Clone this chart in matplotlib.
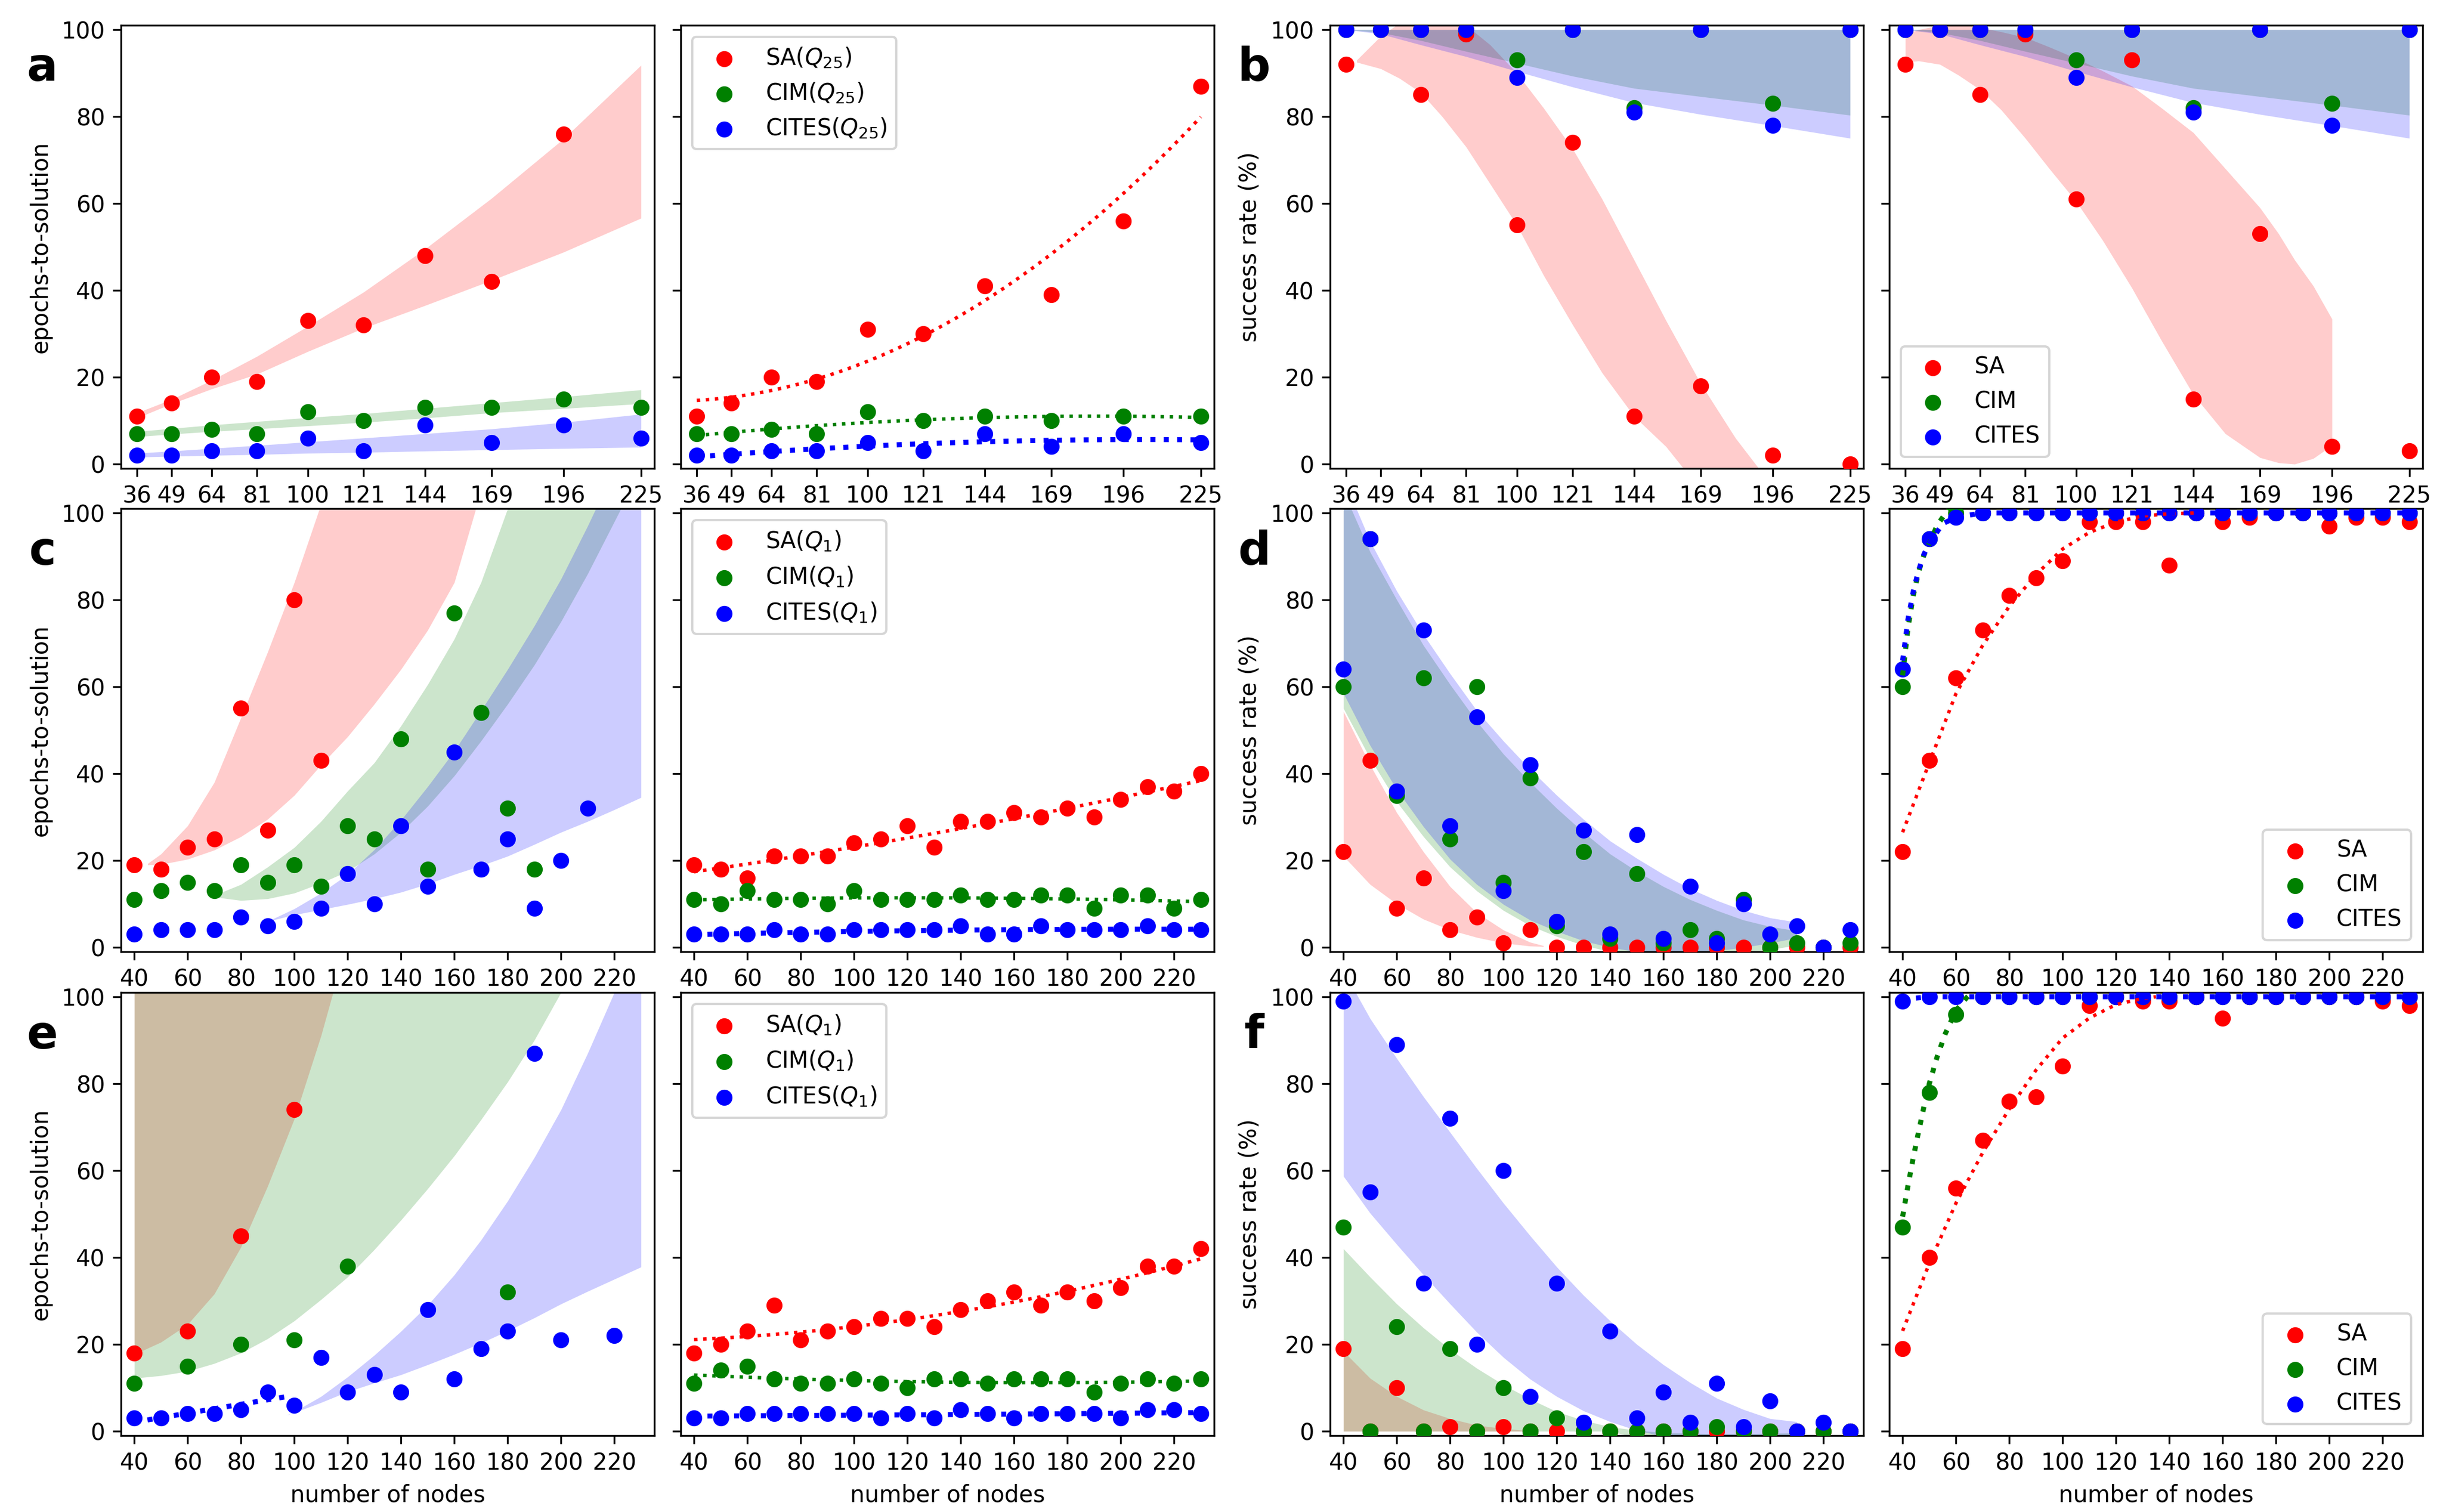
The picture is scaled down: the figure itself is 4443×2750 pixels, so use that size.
import numpy as np
import matplotlib.pyplot as plt

plt.rcParams['font.size'] = 10

# ---------------- x values ----------------
nodes_sq = [36, 49, 64, 81, 100, 121, 144, 169, 196, 225]
nodes = [40, 50, 60, 70, 80, 90, 100, 110, 120, 130, 140, 150, 160, 170, 180, 190, 200, 210, 220, 230]

# ---------------- panel a ----------------
a_sa = [11, 14, 20, 19, 33, 32, 48, 42, 76]
a_cim = [7, 7, 8, 7, 12, 10, 13, 13, 15, 13]
a_cites = [2, 2, 3, 3, 6, 3, 9, 5, 9, 6]
a_sa_lo = [10.6, 13.9, 17.3, 20.7, 25.9, 31.3, 36.5, 42.3, 48.8, 56.6]
a_sa_hi = [11.8, 14.9, 19.3, 24.8, 31.7, 39.6, 49.5, 61.2, 74.9, 91.8]
a_cim_lo = [6.3, 6.9, 7.5, 8.1, 8.8, 9.6, 10.6, 11.8, 12.8, 13.9]
a_cim_hi = [7.5, 8.2, 9.0, 9.8, 10.7, 11.6, 12.8, 14.1, 15.5, 17.1]
a_cites_lo = [1.6, 1.8, 2.0, 2.2, 2.5, 2.7, 3.0, 3.3, 3.6, 3.9]
a_cites_hi = [2.5, 3.0, 3.6, 4.3, 5.1, 6.0, 7.0, 8.1, 9.6, 11.5]

ar_sa = [11, 14, 20, 19, 31, 30, 41, 39, 56, 87]
ar_cim = [7, 7, 8, 7, 12, 10, 11, 10, 11, 11]
ar_cites = [2, 2, 3, 3, 5, 3, 7, 4, 7, 5]

# ---------------- panel b ----------------
b_sa = [92, 100, 85, 99, 55, 74, 11, 18, 2, 0]
br_sa = [92, 100, 85, 99, 61, 93, 15, 53, 4, 3]
b_cim = [100, 100, 100, 100, 93, 100, 82, 100, 83, 100]
b_cites = [100, 100, 100, 100, 89, 100, 81, 100, 78, 100]
b_cim_lo = [100, 99.3, 97.5, 95.0, 92.3, 89.3, 86.5, 84.6, 82.6, 80.3]
b_cites_lo = [100, 99.0, 96.5, 93.8, 90.4, 86.8, 83.2, 80.5, 77.9, 75.0]
b_top = [100, 100, 100, 100, 100, 100, 100, 100, 100, 100]
b_sa_band_x = [40, 49, 56, 64, 72, 81, 90, 100, 110, 121, 132, 144, 156, 169, 182, 192]
b_sa_lo = [92.5, 91, 88.8, 85.5, 80, 73, 64.5, 55, 43.5, 32, 21, 11, 4, -6, -12, -16]
b_sa_hi = [93, 98.5, 101.5, 103, 103, 101, 96.5, 90, 82, 72.5, 61, 47, 33, 18.5, 6, -2]
br_sa_band_x = [36, 41, 49, 56, 64, 72, 81, 90, 100, 110, 121, 132, 144, 156, 169, 176, 182, 189, 196]
br_sa_lo = [92.5, 92.8, 92, 89.5, 86.2, 81.5, 75, 68, 60.5, 51.5, 40.5, 28.5, 16, 7, 1.5, 0.3, 0, 1.3, 4.3]
br_sa_hi = [99, 100, 101, 101.5, 100.5, 99.5, 98.2, 96, 93.4, 90.5, 87, 82, 76.3, 68, 59, 53, 47, 41, 33.4]

# ---------------- panel c ----------------
c_sa = [19, 18, 23, 25, 55, 27, 80, 43]
c_cim = [11, 13, 15, 13, 19, 15, 19, 14, 28, 25, 48, 18, 77, 54, 32, 18]
c_cites = [3, 4, 4, 4, 7, 5, 6, 9, 17, 10, 28, 14, 45, 18, 25, 9, 20, 32]
c_sa_band_x = [45, 50, 60, 70, 80, 90, 100, 110, 120, 130, 140, 150, 160, 170]
c_sa_lo = [19, 19.1, 20.3, 22.4, 25.5, 29.5, 35, 42, 48.5, 56, 64, 73, 84, 105]
c_sa_hi = [19.3, 21.5, 28, 38, 52.9, 68, 84, 102, 122, 145, 170, 195, 220, 250]
c_cim_band_x = [70, 80, 90, 100, 110, 120, 130, 140, 150, 160, 170, 180, 190, 200, 210, 220, 230]
c_cim_lo = [11.6, 10.8, 11.2, 12.5, 14.8, 17.5, 21.5, 26.5, 32.5, 39.5, 47.5, 56, 65, 75, 86, 98, 110]
c_cim_hi = [12, 14.5, 18.5, 23, 29, 36, 42.5, 51, 60.5, 71, 84, 101, 117, 135, 155, 175, 195]
c_cites_band_x = [90, 100, 110, 120, 130, 140, 150, 160, 170, 180, 190, 200, 210, 220, 230]
c_cites_lo = [6, 7.5, 8.7, 9.9, 11.2, 12.7, 14.6, 16.8, 18.8, 21, 23.7, 26.5, 29, 31.7, 34.5]
c_cites_hi = [6, 8.9, 12.5, 16.8, 22.5, 29.3, 37, 45.2, 54.5, 64, 74, 84.8, 97, 110, 125]

cr_sa = [19, 18, 16, 21, 21, 21, 24, 25, 28, 23, 29, 29, 31, 30, 32, 30, 34, 37, 36, 40]
cr_cim = [11, 10, 13, 11, 11, 10, 13, 11, 11, 11, 12, 11, 11, 12, 12, 9, 12, 12, 9, 11]
cr_cites = [3, 3, 3, 4, 3, 3, 4, 4, 4, 4, 5, 3, 3, 5, 4, 4, 4, 5, 4, 4]

# ---------------- panel d ----------------
d_sa = [22, 43, 9, 16, 4, 7, 1, 4, 0, 0, 0, 0, 0, 0, 0, 0, 0, 0, 0, 0]
d_cim = [60, 94, 35, 62, 25, 60, 15, 39, 5, 22, 2, 17, 1, 4, 2, 11, 0, 1, 0, 1]
d_cites = [64, 94, 36, 73, 28, 53, 13, 42, 6, 27, 3, 26, 2, 14, 1, 10, 3, 5, 0, 4]
d_sa_band_x = [40, 50, 60, 70, 80, 90, 100, 110, 115]
d_sa_lo = [21, 14.5, 10, 6.5, 4, 2.3, 1, 0.3, 0.2]
d_sa_hi = [54.3, 42, 31, 22, 14, 8, 4, 1.2, 0.4]
d_band_x = [40, 50, 60, 70, 80, 90, 100, 110, 120, 130, 140, 150, 160, 170, 180, 190, 200, 210]
d_cim_lo = [55, 43.5, 33.5, 25.5, 18.5, 13, 8.5, 5, 2.5, 0.5, -1, -2, -2.3, -2.3, -2, -1.3, -0.5, 0.5]
d_cim_hi = [105, 91, 80, 69.5, 60.5, 52, 44.5, 38, 32, 26.5, 21.5, 17.5, 14, 11, 8.5, 6.3, 4.8, 3.8]
d_cites_lo = [58.5, 46.5, 36.3, 27.8, 20.3, 14.5, 9.9, 6.3, 3.7, 1.5, 0, -1, -1.3, -1.2, -0.8, 0, 1, 2.2]
d_cites_hi = [108, 93.5, 82, 72, 63, 54.5, 47.5, 41, 35, 29.5, 24.5, 20.5, 16.8, 13.5, 10.8, 8.5, 6.8, 5.8]

dr_sa = [22, 43, 62, 73, 81, 85, 89, 98, 98, 98, 88, 100, 98, 99, 100, 100, 97, 99, 99, 98]
dr_cim = [60, 94, 100, 100, 100, 100, 100, 100, 100, 100, 100, 100, 100, 100, 100, 100, 100, 100, 100, 100]
dr_cites = [64, 94, 99, 100, 100, 100, 100, 100, 100, 100, 100, 100, 100, 100, 100, 100, 100, 100, 100, 100]
dr_sa_fit_x = [40, 50, 60, 70, 80, 90, 100, 110, 120, 130, 140, 150]
dr_sa_fit = [26.5, 42.5, 58.4, 69.5, 78.5, 85.8, 91.7, 95.5, 97.9, 99.3, 99.8, 100]
dr_cim_fit_x = [40, 42, 44, 46, 48, 50, 53, 57, 60]
dr_cim_fit = [62.6, 73.5, 81, 86.5, 90.3, 93, 97.2, 100.7, 103]
dr_cites_fit_x = [40, 42, 44, 46, 48, 50, 55, 60, 70, 230]
dr_cites_fit = [66, 75.5, 82, 86.8, 90.5, 93, 97.5, 99, 100, 100]

# ---------------- panel e ----------------
e_sa_x = [40, 60, 80, 100]
e_sa = [18, 23, 45, 74]
e_cim_x = [40, 60, 80, 100, 120, 180]
e_cim = [11, 15, 20, 21, 38, 32]
e_cites_x = [40, 50, 60, 70, 80, 90, 100, 110, 120, 130, 140, 150, 160, 170, 180, 190, 200, 220]
e_cites = [3, 3, 4, 4, 5, 9, 6, 17, 9, 13, 9, 28, 12, 19, 23, 87, 21, 22]
e_sa_band_x = [40, 50, 60, 70, 80, 90, 100, 110, 120]
e_sa_lo = [17.7, 20.5, 24.6, 31.6, 42.4, 56.4, 71.9, 91, 113]
e_sa_hi = [130, 130, 130, 130, 130, 130, 130, 130, 130]
e_cim_band_x = [40, 50, 60, 70, 80, 90, 100, 110, 120, 130, 140, 150, 160, 170, 180, 190, 200]
e_cim_lo = [12.2, 12.8, 13.8, 15.6, 18, 21.3, 25.4, 30.3, 35.5, 41.8, 48.6, 55.8, 63.4, 71.7, 80.4, 90, 101]
e_cim_hi = [130, 130, 130, 130, 130, 130, 130, 130, 130, 130, 130, 130, 130, 130, 130, 130, 130]
e_cites_band_x = [97, 100, 110, 120, 130, 140, 150, 160, 170, 180, 190, 200, 210, 220, 230]
e_cites_lo = [3.7, 4.3, 6.6, 9.1, 11.1, 13, 15.3, 17.7, 20.3, 23.1, 26.1, 29.3, 32.2, 35, 37.8]
e_cites_hi = [3.7, 4.5, 8, 12.5, 17.5, 23, 29, 36, 44, 53, 63, 74, 87, 101, 117]

er_sa = [18, 20, 23, 29, 21, 23, 24, 26, 26, 24, 28, 30, 32, 29, 32, 30, 33, 38, 38, 42]
er_cim = [11, 14, 15, 12, 11, 11, 12, 11, 10, 12, 12, 11, 12, 12, 12, 9, 11, 12, 11, 12]
er_cites = [3, 3, 4, 4, 4, 4, 4, 3, 4, 3, 5, 4, 3, 4, 4, 4, 3, 5, 5, 4]

# ---------------- panel f ----------------
f_sa = [19, 0, 10, 0, 1, 0, 1, 0, 0, 0, 0, 0, 0, 0, 0, 0, 0, 0, 0, 0]
f_cim = [47, 0, 24, 0, 19, 0, 10, 0, 3, 0, 0, 0, 0, 0, 1, 0, 0, 0, 0, 0]
f_cites = [99, 55, 89, 34, 72, 20, 60, 8, 34, 2, 23, 3, 9, 2, 11, 1, 7, 0, 2, 0]
f_sa_band_x = [40, 50, 60, 70, 80, 90, 100, 110]
f_sa_lo = [0, 0, 0, 0, 0, 0, 0, 0]
f_sa_hi = [18.4, 12.2, 8, 4.9, 2.9, 1.4, 0.6, 0.1]
f_band_x = [40, 50, 60, 70, 80, 90, 100, 110, 120, 130, 140, 150, 160, 170, 180, 190, 200, 210]
f_cim_lo = [0, 0, 0, 0, 0, 0, 0, 0, 0, 0, 0, -1.5, -1.5, -1.5, -1.5, -1.5, -1.5, -1.5]
f_cim_hi = [42, 35.5, 29.3, 23.8, 18.8, 14.5, 10.7, 7.4, 4.5, 2.5, 1, 0.2, -0.3, -0.5, -0.6, -0.6, -0.5, -0.4]
f_cites_lo = [58.7, 50.2, 43, 36, 29.3, 22.8, 17, 12, 8, 4.7, 2.2, 0.2, -1.2, -2, -2.5, -2.5, -2, -1.2]
f_cites_hi = [106, 95, 85.8, 77, 68.8, 60.5, 52.5, 45, 37.8, 31.3, 25.4, 20, 15.3, 11.2, 7.6, 5, 2.9, 2.2]

fr_sa = [19, 40, 56, 67, 76, 77, 84, 98, 100, 99, 99, 100, 95, 100, 100, 100, 100, 100, 99, 98]
fr_cim = [47, 78, 96, 100, 100, 100, 100, 100, 100, 100, 100, 100, 100, 100, 100, 100, 100, 100, 100, 100]
fr_cites = [99, 100, 100, 100, 100, 100, 100, 100, 100, 100, 100, 100, 100, 100, 100, 100, 100, 100, 100, 100]
fr_sa_fit_x = [40, 50, 60, 70, 80, 90, 100, 110, 120, 130, 135]
fr_sa_fit = [23.1, 38.6, 52.5, 64.1, 74.2, 83.1, 90.5, 95.1, 98.2, 99.6, 100]
fr_cim_fit_x = [40, 42, 44, 46, 48, 50, 53, 56, 60, 64, 68]
fr_cim_fit = [49.4, 56.5, 63, 69, 74.7, 80, 86.3, 91.5, 96.8, 99.8, 102]
fr_cites_fit_x = [40, 50, 230]
fr_cites_fit = [99.4, 100, 100]

# ---------------- layout ----------------
W, H = 4443, 2750
fig = plt.figure(figsize=(W / 300, H / 300), dpi=300)
col_px = [220, 1238, 2419, 3436]
row_px = [46, 925, 1805]
aw, ah = 970, 806


def make_ax(r, c):
    return fig.add_axes([col_px[c] / W, 1 - (row_px[r] + ah) / H, aw / W, ah / H])


def setup(ax, xticks, xlim, ylabel=None, xlabel=False, ylabels=True):
    ax.set_xlim(*xlim)
    ax.set_ylim(-1, 101)
    ax.set_xticks(xticks)
    ax.set_yticks([0, 20, 40, 60, 80, 100])
    if not ylabels:
        ax.set_yticklabels([])
    if ylabel:
        ax.set_ylabel(ylabel)
    if xlabel:
        ax.set_xlabel('number of nodes')


def dots(ax, xs, ys, labels=(None, None, None)):
    for x, y, col, lab in zip(xs, ys, ['red', 'green', 'blue'], labels):
        ax.scatter(x, y, color=col, label=lab, zorder=3)


def band(ax, x, lo, hi, col):
    ax.fill_between(x, lo, hi, color=col, alpha=0.2, linewidth=0)


def polyline(ax, x, y, deg, col, lw=1.5, x0=None, x1=None):
    p = np.polyfit(x, y, deg)
    xx = np.linspace(x0 if x0 is not None else min(x), x1 if x1 is not None else max(x), 200)
    ax.plot(xx, np.polyval(p, xx), ':', color=col, lw=lw, zorder=4)


ticks_sq = nodes_sq
ticks_lin = [40, 60, 80, 100, 120, 140, 160, 180, 200, 220]
lab25 = ('SA($Q_{25}$)', 'CIM($Q_{25}$)', 'CITES($Q_{25}$)')
lab1 = ('SA($Q_1$)', 'CIM($Q_1$)', 'CITES($Q_1$)')
labs = ('SA', 'CIM', 'CITES')

# a left
ax = make_ax(0, 0)
band(ax, nodes_sq, a_sa_lo, a_sa_hi, 'red')
band(ax, nodes_sq, a_cim_lo, a_cim_hi, 'green')
band(ax, nodes_sq, a_cites_lo, a_cites_hi, 'blue')
dots(ax, [nodes_sq[:len(a_sa)], nodes_sq, nodes_sq], [a_sa, a_cim, a_cites])
setup(ax, ticks_sq, (30, 230), ylabel='epochs-to-solution')

# a right
ax = make_ax(0, 1)
dots(ax, [nodes_sq] * 3, [ar_sa, ar_cim, ar_cites], lab25)
polyline(ax, nodes_sq, ar_sa, 2, 'red')
polyline(ax, nodes_sq, ar_cim, 2, 'green')
polyline(ax, nodes_sq, ar_cites, 2, 'blue', lw=2.2)
setup(ax, ticks_sq, (30, 230), ylabels=False)
ax.legend(loc='upper left')

# b left
ax = make_ax(0, 2)
band(ax, b_sa_band_x, b_sa_lo, b_sa_hi, 'red')
band(ax, nodes_sq, b_cim_lo, b_top, 'green')
band(ax, nodes_sq, b_cites_lo, b_top, 'blue')
dots(ax, [nodes_sq] * 3, [b_sa, b_cim, b_cites])
setup(ax, ticks_sq, (30, 230), ylabel='success rate (%)')

# b right
ax = make_ax(0, 3)
band(ax, br_sa_band_x, br_sa_lo, br_sa_hi, 'red')
band(ax, nodes_sq, b_cim_lo, b_top, 'green')
band(ax, nodes_sq, b_cites_lo, b_top, 'blue')
dots(ax, [nodes_sq] * 3, [br_sa, b_cim, b_cites], labs)
setup(ax, ticks_sq, (30, 230), ylabels=False)
ax.legend(loc='lower left')

# c left
ax = make_ax(1, 0)
band(ax, c_sa_band_x, c_sa_lo, c_sa_hi, 'red')
band(ax, c_cim_band_x, c_cim_lo, c_cim_hi, 'green')
band(ax, c_cites_band_x, c_cites_lo, c_cites_hi, 'blue')
dots(ax, [nodes[:len(c_sa)], nodes[:len(c_cim)], nodes[:len(c_cites)]], [c_sa, c_cim, c_cites])
setup(ax, ticks_lin, (35, 235), ylabel='epochs-to-solution')

# c right
ax = make_ax(1, 1)
dots(ax, [nodes] * 3, [cr_sa, cr_cim, cr_cites], lab1)
polyline(ax, nodes, cr_sa, 2, 'red')
polyline(ax, nodes, cr_cim, 2, 'green')
polyline(ax, nodes, cr_cites, 2, 'blue', lw=2.2)
setup(ax, ticks_lin, (35, 235), ylabels=False)
ax.legend(loc='upper left')

# d left
ax = make_ax(1, 2)
band(ax, d_sa_band_x, d_sa_lo, d_sa_hi, 'red')
band(ax, d_band_x, d_cim_lo, d_cim_hi, 'green')
band(ax, d_band_x, d_cites_lo, d_cites_hi, 'blue')
dots(ax, [nodes] * 3, [d_sa, d_cim, d_cites])
setup(ax, ticks_lin, (35, 235), ylabel='success rate (%)')

# d right
ax = make_ax(1, 3)
dots(ax, [nodes] * 3, [dr_sa, dr_cim, dr_cites], labs)
ax.plot(dr_sa_fit_x, dr_sa_fit, ':', color='red', lw=1.5, zorder=4)
ax.plot(dr_cim_fit_x, dr_cim_fit, ':', color='green', lw=2.2, zorder=4)
ax.plot(dr_cites_fit_x, dr_cites_fit, ':', color='blue', lw=2.2, zorder=4)
setup(ax, ticks_lin, (35, 235), ylabels=False)
ax.legend(loc='lower right')

# e left
ax = make_ax(2, 0)
band(ax, e_sa_band_x, e_sa_lo, e_sa_hi, 'red')
band(ax, e_cim_band_x, e_cim_lo, e_cim_hi, 'green')
band(ax, e_cites_band_x, e_cites_lo, e_cites_hi, 'blue')
dots(ax, [e_sa_x, e_cim_x, e_cites_x], [e_sa, e_cim, e_cites])
polyline(ax, e_cites_x[:6], e_cites[:6], 1, 'blue', lw=2.2, x0=40, x1=97)
setup(ax, ticks_lin, (35, 235), ylabel='epochs-to-solution', xlabel=True)

# e right
ax = make_ax(2, 1)
dots(ax, [nodes] * 3, [er_sa, er_cim, er_cites], lab1)
polyline(ax, nodes, er_sa, 2, 'red')
polyline(ax, nodes, er_cim, 2, 'green')
polyline(ax, nodes, er_cites, 2, 'blue', lw=2.2)
setup(ax, ticks_lin, (35, 235), xlabel=True, ylabels=False)
ax.legend(loc='upper left')

# f left
ax = make_ax(2, 2)
band(ax, f_sa_band_x, f_sa_lo, f_sa_hi, 'red')
band(ax, f_band_x, f_cim_lo, f_cim_hi, 'green')
band(ax, f_band_x, f_cites_lo, f_cites_hi, 'blue')
dots(ax, [nodes] * 3, [f_sa, f_cim, f_cites])
setup(ax, ticks_lin, (35, 235), ylabel='success rate (%)', xlabel=True)

# f right
ax = make_ax(2, 3)
dots(ax, [nodes] * 3, [fr_sa, fr_cim, fr_cites], labs)
ax.plot(fr_sa_fit_x, fr_sa_fit, ':', color='red', lw=1.5, zorder=4)
ax.plot(fr_cim_fit_x, fr_cim_fit, ':', color='green', lw=2.2, zorder=4)
ax.plot(fr_cites_fit_x, fr_cites_fit, ':', color='blue', lw=2.2, zorder=4)
setup(ax, ticks_lin, (35, 235), xlabel=True, ylabels=False)
ax.legend(loc='lower right')

# panel letters
for letter, c, r in [('a', 0, 0), ('b', 1, 0), ('c', 0, 1), ('d', 1, 1), ('e', 0, 2), ('f', 1, 2)]:
    x = [77, 2281][c] / W
    y = 1 - (row_px[r] + 78) / H
    fig.text(x, y, letter, fontsize=20, fontweight='bold', ha='center', va='center')

fig.savefig('out.png', dpi=300)
